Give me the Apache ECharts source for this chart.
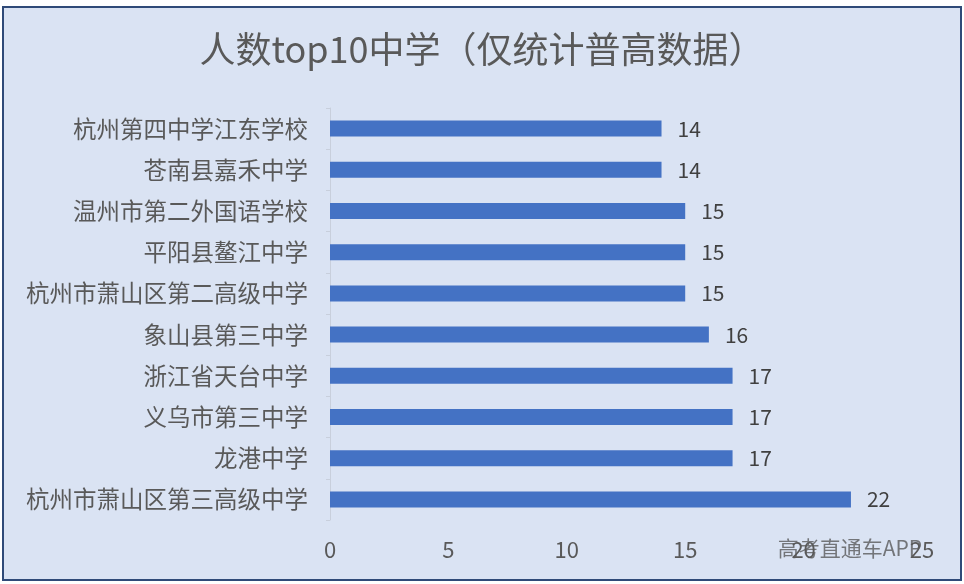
<!DOCTYPE html>
<html><head><meta charset="utf-8">
<script src="https://cdn.jsdelivr.net/npm/echarts@6/dist/echarts.min.js"></script>
<style>
html,body{margin:0;padding:0;background:#ffffff;}
#wrap{position:absolute;left:2px;top:6px;width:956px;height:571px;border:2px solid #2f4a78;background:#dae3f3;}
#chart{width:956px;height:571px;}
</style></head>
<body><div id="wrap"><div id="chart"></div></div>
<script>
const title = '人数top10中学（仅统计普高数据）';
const categories = ['杭州第四中学江东学校','苍南县嘉禾中学','温州市第二外国语学校','平阳县鳌江中学','杭州市萧山区第二高级中学','象山县第三中学','浙江省天台中学','义乌市第三中学','龙港中学','杭州市萧山区第三高级中学'];
const values = [14,14,15,15,15,16,17,17,17,22];
const xTicks = [0,5,10,15,20,25];
const watermark = '高考直通车APP';

const chart = echarts.init(document.getElementById('chart'));
const font = '"Noto Sans CJK SC", "Noto Sans", sans-serif';
chart.setOption({
  backgroundColor: 'transparent',
  title: {text: title, left: 'center', top: 18, textStyle: {fontFamily: font, fontSize: 36, fontWeight: 'normal', color: '#595959'}},
  grid: {left: 326, right: 38, top: 100, bottom: 59},
  xAxis: {type: 'value', min: xTicks[0], max: xTicks[xTicks.length-1], interval: 5,
    axisLine: {show: false}, axisTick: {show: false}, splitLine: {show: false},
    axisLabel: {fontFamily: font, fontSize: 22, color: '#595959', margin: 19}},
  yAxis: {type: 'category', data: categories, inverse: true,
    axisLine: {show: true, lineStyle: {color: '#c8cfdc'}},
    axisTick: {show: true, length: 4, lineStyle: {color: '#c8cfdc'}},
    axisLabel: {fontFamily: font, fontSize: 23.5, color: '#595959', margin: 22}},
  series: [{type: 'bar', data: values, barWidth: 16, itemStyle: {color: '#4472c4'},
    label: {show: true, position: 'right', distance: 16, fontFamily: font, fontSize: 21, color: '#404040'}}],
  graphic: [{type: 'text', right: 38, bottom: 20, style: {text: watermark, fontFamily: font, fontSize: 21, fill: 'rgba(80,80,80,0.75)'}}]
});
</script></body></html>
